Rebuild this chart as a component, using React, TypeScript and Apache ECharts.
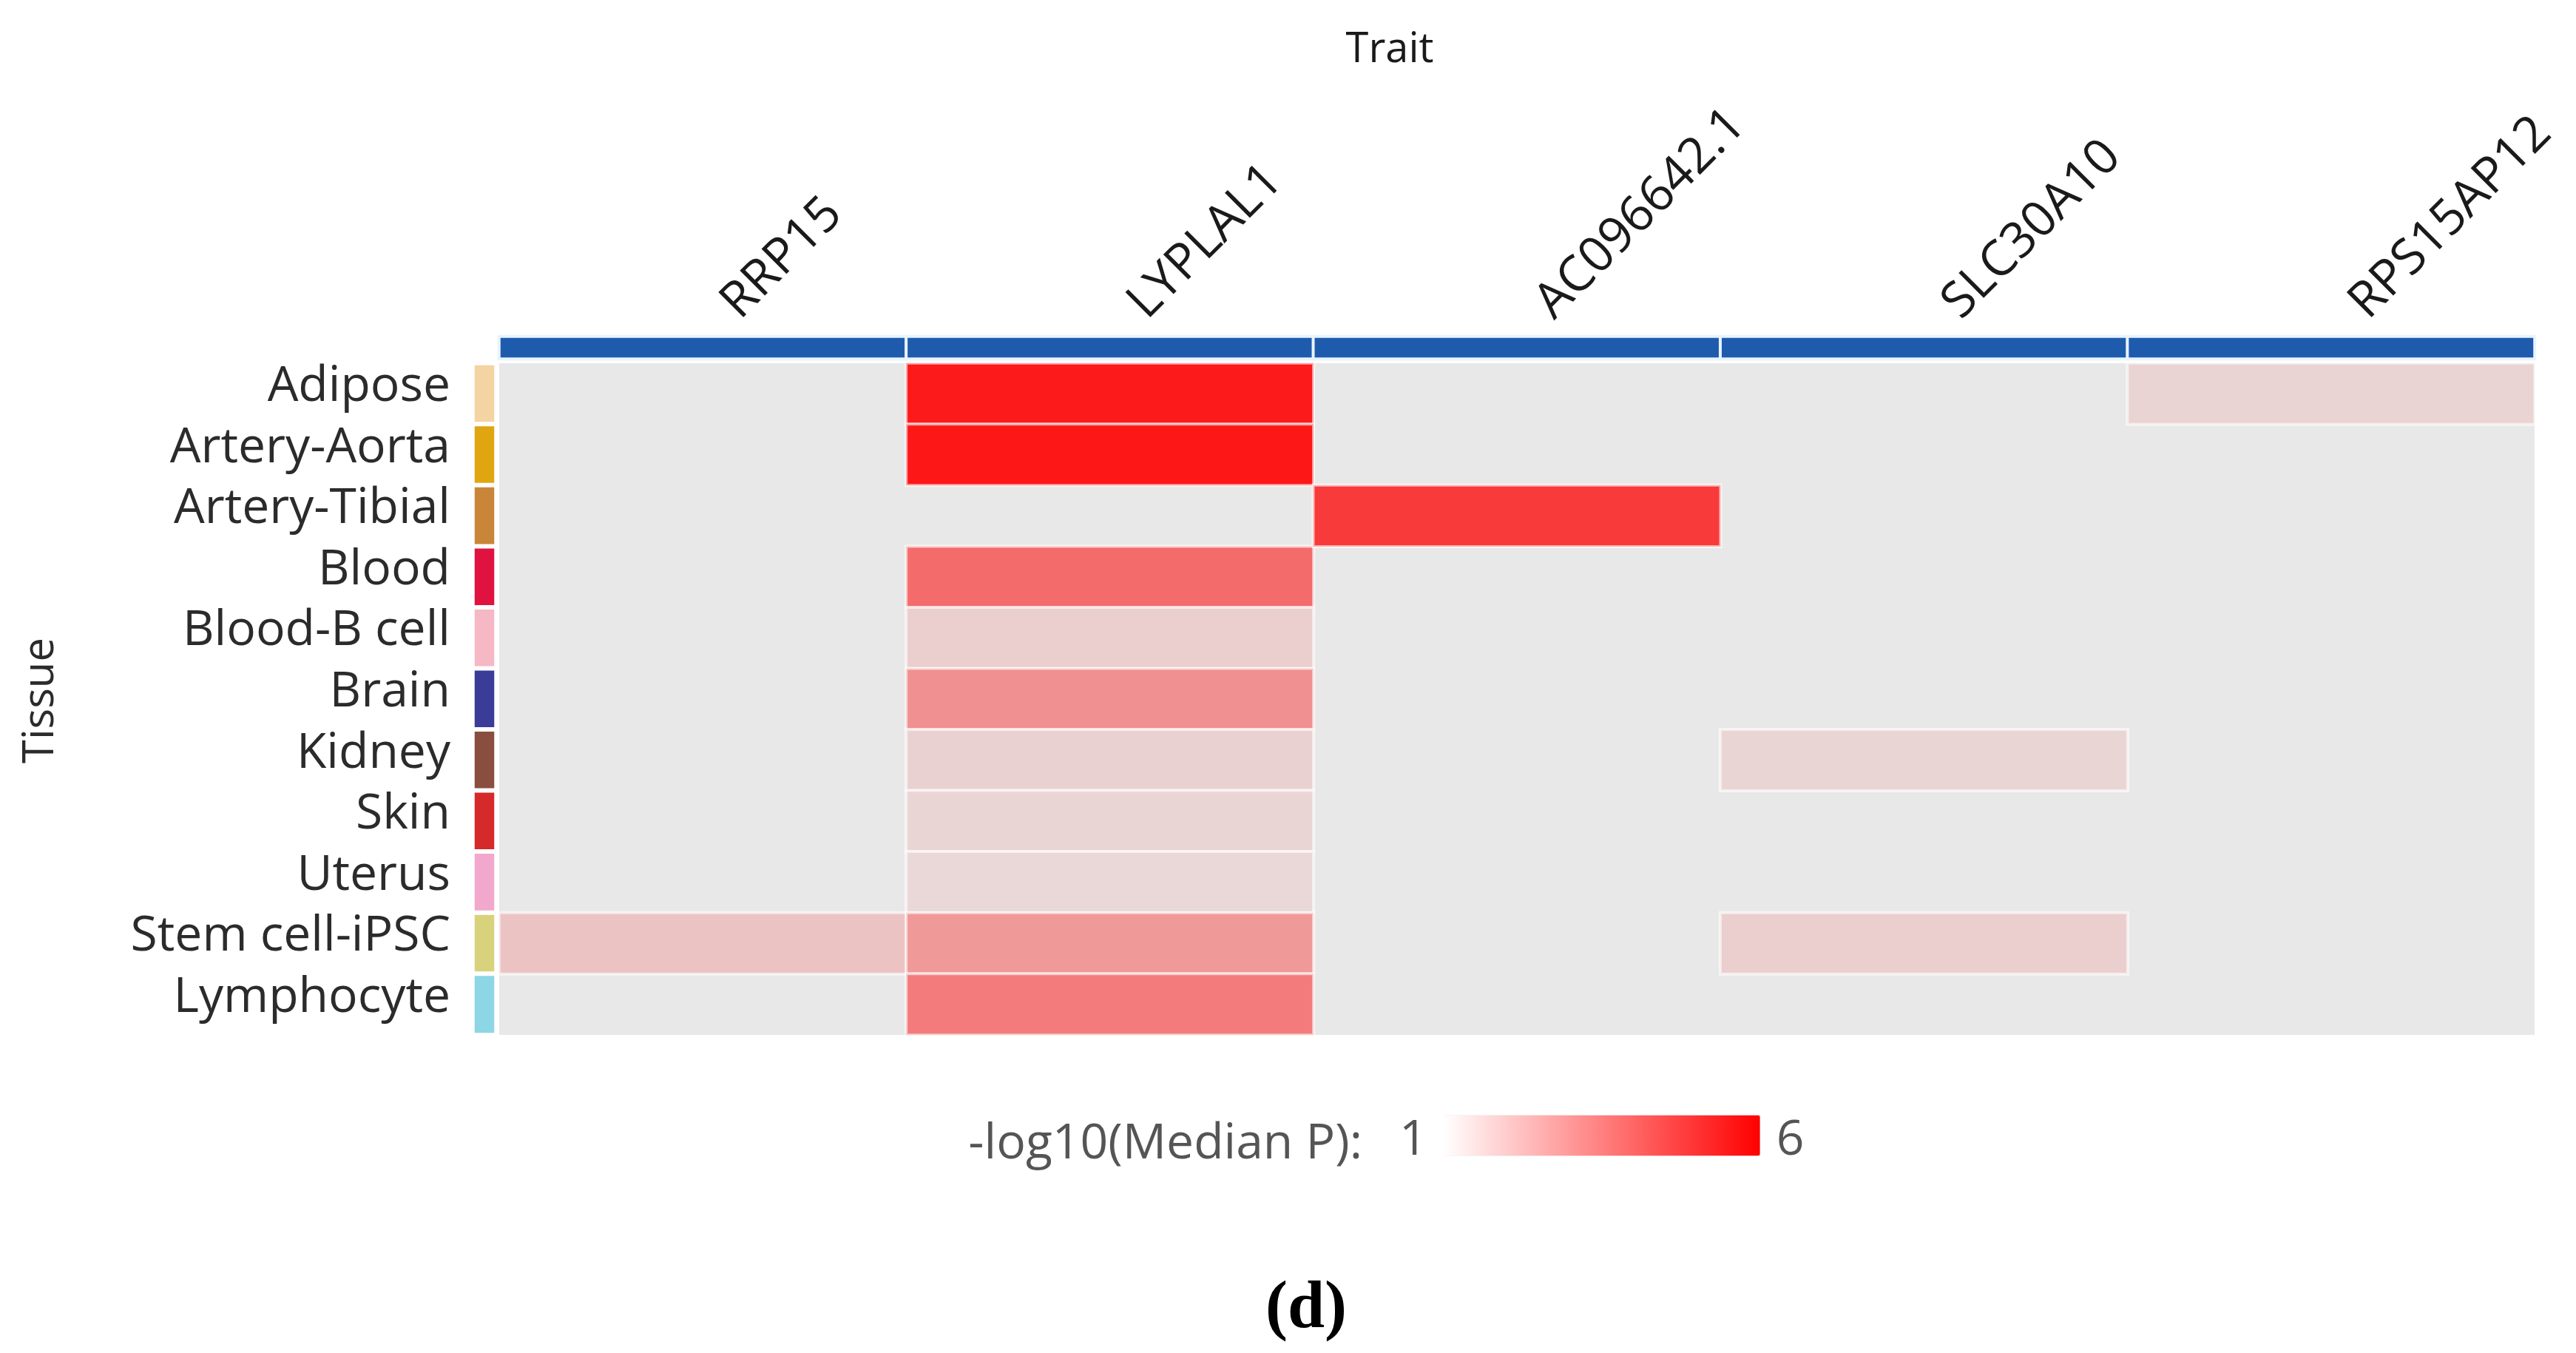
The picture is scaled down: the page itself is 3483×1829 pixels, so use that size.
import React, { useEffect, useRef } from "react";
import * as echarts from "echarts";

const traits = ["RRP15", "LYPLAL1", "AC096642.1", "SLC30A10", "RPS15AP12"];
const tissues = [
  "Adipose",
  "Artery-Aorta",
  "Artery-Tibial",
  "Blood",
  "Blood-B cell",
  "Brain",
  "Kidney",
  "Skin",
  "Uterus",
  "Stem cell-iPSC",
  "Lymphocyte",
];
const tissueColors = [
  "#f3d4a2",
  "#e0a611",
  "#c98638",
  "#e0123f",
  "#f6b8c4",
  "#3b3b98",
  "#8a4e3e",
  "#d62a2a",
  "#f2a8cd",
  "#d8d27c",
  "#8dd6e6",
];
const traitBarColor = "#1f5bad";

// -log10(Median P) per trait, one value per tissue (null = not significant)
const rrp15 = [null, null, null, null, null, null, null, null, null, 1.8, null];
const lyplal1 = [5.45, 5.5, null, 3.7, 1.55, 2.9, 1.5, 1.4, 1.35, 2.7, 3.35];
const ac096642 = [null, null, 4.75, null, null, null, null, null, null, null, null];
const slc30a10 = [null, null, null, null, null, null, 1.4, null, null, 1.55, null];
const rps15ap12 = [1.45, null, null, null, null, null, null, null, null, null, null];
const valuesByTrait = [rrp15, lyplal1, ac096642, slc30a10, rps15ap12];

const colorMin = 1;
const colorMax = 6;

const FONT = "'Open Sans', 'Noto Sans', sans-serif";

export default function App() {
  const ref = useRef<HTMLDivElement>(null);

  useEffect(() => {
    if (!ref.current) return;
    const chart = echarts.init(ref.current, null, { renderer: "svg" });

    const mainData: any[] = [];
    valuesByTrait.forEach((vals, xi) => {
      vals.forEach((v, yi) => {
        if (v !== null) mainData.push([xi, yi, v]);
      });
    });

    const barData = traits.map((_, i) => [i, 0, 1]);
    const stripData = tissues.map((_, i) => [0, i, i]);

    const option: any = {
      animation: false,
      backgroundColor: "#ffffff",
      textStyle: { fontFamily: FONT },
      grid: [
        {
          left: 675,
          top: 491,
          width: 2752,
          height: 908,
          show: true,
          backgroundColor: "#e8e8e8",
          borderWidth: 0,
        },
        { left: 675, top: 455, width: 2752, height: 30 },
        { left: 639, top: 491, width: 32, height: 908 },
      ],
      xAxis: [
        {
          gridIndex: 0,
          type: "category",
          data: traits,
          show: false,
        },
        {
          gridIndex: 1,
          type: "category",
          data: traits,
          position: "top",
          axisLine: { show: false },
          axisTick: { show: false },
          splitLine: { show: false },
          axisLabel: {
            interval: 0,
            rotate: -45,
            margin: 8,
            fontSize: 67,
            color: "#1a1a1a",
            fontFamily: FONT,
            padding: [0, 0, 0, 45],
          },
        },
        { gridIndex: 2, type: "category", data: ["tissue"], show: false },
        { gridIndex: 0, type: "category", data: traits, show: false },
      ],
      yAxis: [
        {
          gridIndex: 0,
          type: "category",
          data: tissues,
          inverse: true,
          axisLine: { show: false },
          axisTick: { show: false },
          splitLine: { show: false },
          axisLabel: {
            interval: 0,
            margin: 66,
            fontSize: 66,
            color: "#2b2b2b",
            fontFamily: FONT,
            verticalAlign: "bottom",
            lineHeight: 32,
          },
        },
        { gridIndex: 1, type: "category", data: ["trait"], show: false },
        {
          gridIndex: 2,
          type: "category",
          data: tissues,
          inverse: true,
          show: false,
        },
      ],
      visualMap: [
        {
          // displayed colour bar
          type: "continuous",
          seriesIndex: 3,
          min: colorMin,
          max: colorMax,
          orient: "horizontal",
          calculable: false,
          left: 1877,
          top: 1487,
          itemWidth: 55,
          itemHeight: 428,
          text: ["6", "1"],
          textGap: 22,
          textStyle: { fontSize: 66, color: "#555555", fontFamily: FONT },
          inRange: { color: ["#ffffff", "#ff0000"] },
        },
        {
          // same scale applied to cells drawn over the grey panel
          type: "continuous",
          show: false,
          seriesIndex: 0,
          min: colorMin,
          max: colorMax,
          inRange: { color: ["#e8e8e8", "#ff0000"] },
        },
        {
          type: "continuous",
          show: false,
          seriesIndex: 1,
          min: 0,
          max: 1,
          inRange: { color: [traitBarColor, traitBarColor] },
        },
        {
          type: "piecewise",
          show: false,
          seriesIndex: 2,
          dimension: 2,
          pieces: tissueColors.map((c, i) => ({ value: i, color: c })),
        },
      ],
      series: [
        {
          type: "heatmap",
          xAxisIndex: 0,
          yAxisIndex: 0,
          data: mainData,
          silent: true,
          itemStyle: { borderColor: "rgba(255,255,255,0.6)", borderWidth: 4 },
        },
        {
          type: "heatmap",
          xAxisIndex: 1,
          yAxisIndex: 1,
          data: barData,
          silent: true,
          itemStyle: { borderColor: "#e8f4ff", borderWidth: 4 },
        },
        {
          type: "heatmap",
          xAxisIndex: 2,
          yAxisIndex: 2,
          data: stripData,
          silent: true,
          itemStyle: { borderColor: "#ffffff", borderWidth: 6 },
        },
        {
          type: "heatmap",
          xAxisIndex: 3,
          yAxisIndex: 0,
          data: [],
          silent: true,
        },
      ],
      graphic: [
        {
          type: "text",
          x: 1879,
          y: 62,
          style: {
            text: "Trait",
            fontSize: 56,
            fontFamily: FONT,
            fill: "#1a1a1a",
            align: "center",
            verticalAlign: "middle",
          },
        },
        {
          type: "text",
          x: 49,
          y: 947,
          rotation: Math.PI / 2,
          style: {
            text: "Tissue",
            fontSize: 58,
            fontFamily: FONT,
            fill: "#2b2b2b",
            align: "center",
            verticalAlign: "middle",
          },
        },
        {
          type: "text",
          x: 1842,
          y: 1540,
          style: {
            text: "-log10(Median P):",
            fontSize: 66,
            fontFamily: FONT,
            fill: "#555555",
            align: "right",
            verticalAlign: "middle",
          },
        },
        {
          type: "text",
          x: 1766,
          y: 1763,
          style: {
            text: "(d)",
            fontSize: 90,
            fontWeight: "bold",
            fontFamily: "'Liberation Serif', 'DejaVu Serif', serif",
            fill: "#000000",
            align: "center",
            verticalAlign: "middle",
          },
        },
      ],
    };

    chart.setOption(option);
    return () => chart.dispose();
  }, []);

  return (
    <div
      ref={ref}
      style={{ position: "absolute", left: 0, top: 0, width: 3483, height: 1829 }}
    />
  );
}
